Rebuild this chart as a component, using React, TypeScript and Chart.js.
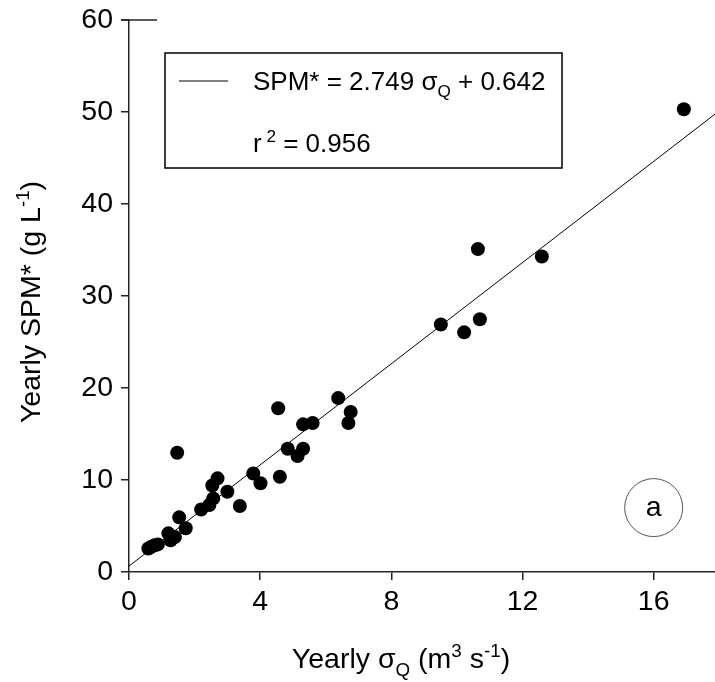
import React, { useEffect, useRef } from "react";
import { Chart, registerables } from "chart.js";

Chart.register(...registerables);

// ---- data ----
const sigmaQ = [
  0.59, 0.68, 0.78, 0.88, 1.2, 1.27, 1.4, 1.53, 1.73, 1.47,
  2.2, 2.45, 2.57, 2.54, 2.7, 3.0, 3.38, 3.79, 4.01, 4.6,
  4.84, 5.14, 5.31, 5.31, 5.6, 4.55, 6.38, 6.76, 6.69, 9.51,
  10.22, 10.7, 10.64, 12.59, 16.92,
];
const spm = [
  2.55, 2.75, 2.9, 3.0, 4.2, 3.45, 3.8, 5.94, 4.75, 12.97,
  6.8, 7.28, 8.0, 9.4, 10.18, 8.73, 7.17, 10.7, 9.64, 10.36,
  13.4, 12.6, 13.4, 16.05, 16.2, 17.8, 18.9, 17.4, 16.2, 26.9,
  26.05, 27.47, 35.1, 34.3, 50.3,
];
// regression line endpoints (SPM* = 2.749 sigmaQ + 0.642)
const fitX = [0, 17.87];
const fitY = [0.642, 49.77];

const xTicks = [0, 4, 8, 12, 16];
const yTicks = [0, 10, 20, 30, 40, 50, 60];
const X_MAX = 17.87;
const Y_MAX = 60;

const FONT = "'Liberation Sans', Arial, sans-serif";
const FS = 28.5;
const LEG_FS = 26;

type Seg = { t: string; k?: "sub" | "sup" };

function segFont(size: number, k?: string) {
  const s = k ? size * 0.66 : size;
  return `${s}px ${FONT}`;
}

function richWidth(ctx: CanvasRenderingContext2D, segs: Seg[], size: number) {
  let w = 0;
  for (const s of segs) {
    ctx.font = segFont(size, s.k);
    w += ctx.measureText(s.t).width;
  }
  return w;
}

function drawRich(
  ctx: CanvasRenderingContext2D,
  segs: Seg[],
  x: number,
  y: number,
  size: number,
  align: "left" | "center"
) {
  let cx = align === "center" ? x - richWidth(ctx, segs, size) / 2 : x;
  ctx.textAlign = "left";
  ctx.textBaseline = "alphabetic";
  ctx.fillStyle = "#000";
  for (const s of segs) {
    ctx.font = segFont(size, s.k);
    const dy = s.k === "sub" ? size * 0.28 : s.k === "sup" ? -size * 0.38 : 0;
    ctx.fillText(s.t, cx, y + dy);
    cx += ctx.measureText(s.t).width;
  }
}

const annotPlugin = {
  id: "annot",
  afterDraw(chart: any) {
    const ctx: CanvasRenderingContext2D = chart.ctx;
    const area = chart.chartArea;
    const xs = chart.scales.x;
    const ys = chart.scales.y;
    ctx.save();

    // small top segment at y max
    ctx.strokeStyle = "#222";
    ctx.lineWidth = 1.5;
    ctx.beginPath();
    const yTop = ys.getPixelForValue(Y_MAX);
    ctx.moveTo(area.left - 8, yTop);
    ctx.lineTo(area.left + 28, yTop);
    ctx.stroke();

    // legend box
    const bx = area.left + 36;
    const by = area.top + 33;
    const bw = 397;
    const bh = 115;
    ctx.strokeStyle = "#000";
    ctx.lineWidth = 1.5;
    ctx.strokeRect(bx, by, bw, bh);
    ctx.lineWidth = 1;
    ctx.beginPath();
    ctx.moveTo(bx + 14, by + 28);
    ctx.lineTo(bx + 63, by + 28);
    ctx.stroke();
    drawRich(
      ctx,
      [{ t: "SPM* = 2.749 σ" }, { t: "Q", k: "sub" }, { t: " + 0.642" }],
      bx + 88,
      by + 37,
      LEG_FS,
      "left"
    );
    drawRich(
      ctx,
      [{ t: "r" }, { t: " 2", k: "sup" }, { t: " = 0.956" }],
      bx + 88,
      by + 99,
      LEG_FS,
      "left"
    );

    // circled "a"
    const cx = xs.getPixelForValue(16);
    const cy = ys.getPixelForValue(7);
    ctx.strokeStyle = "#555";
    ctx.lineWidth = 1;
    ctx.beginPath();
    ctx.arc(cx, cy, 29, 0, Math.PI * 2);
    ctx.stroke();
    ctx.fillStyle = "#000";
    ctx.font = `${FS}px ${FONT}`;
    ctx.textAlign = "center";
    ctx.textBaseline = "middle";
    ctx.fillText("a", cx, cy + 1);

    // x title
    drawRich(
      ctx,
      [
        { t: "Yearly σ" },
        { t: "Q", k: "sub" },
        { t: " (m" },
        { t: "3", k: "sup" },
        { t: " s" },
        { t: "-1", k: "sup" },
        { t: ")" },
      ],
      area.left + 272,
      668,
      FS,
      "center"
    );

    // y title
    ctx.save();
    ctx.translate(40, (area.top + area.bottom) / 2 + 6);
    ctx.rotate(-Math.PI / 2);
    drawRich(
      ctx,
      [{ t: "Yearly SPM* (g L" }, { t: "-1", k: "sup" }, { t: ")" }],
      0,
      0,
      FS,
      "center"
    );
    ctx.restore();

    ctx.restore();
  },
};

export default function App() {
  const ref = useRef<HTMLCanvasElement | null>(null);

  useEffect(() => {
    document.body.style.margin = "0";
    const canvas = ref.current!;
    const axisCommon = {
      grid: {
        drawOnChartArea: false,
        drawTicks: true,
        tickLength: 8,
        color: "#222",
        lineWidth: 1.5,
      },
      border: { display: true, color: "#222", width: 1.5 },
    };
    const chart = new Chart(canvas, {
      type: "scatter",
      data: {
        datasets: [
          {
            type: "line",
            data: fitX.map((x, i) => ({ x, y: fitY[i] })),
            borderColor: "#000",
            borderWidth: 1,
            pointRadius: 0,
            fill: false,
            order: 2,
          } as any,
          {
            data: sigmaQ.map((x, i) => ({ x, y: spm[i] })),
            backgroundColor: "#000",
            borderColor: "#000",
            borderWidth: 0,
            pointRadius: 7,
            clip: false,
            order: 1,
          } as any,
        ],
      },
      options: {
        responsive: false,
        animation: false,
        layout: {
          autoPadding: false,
          padding: { top: 20, right: 0, left: 0, bottom: 0 },
        },
        plugins: {
          legend: { display: false },
          tooltip: { enabled: false },
        },
        scales: {
          x: {
            type: "linear",
            min: 0,
            max: X_MAX,
            afterBuildTicks: (s: any) => {
              s.ticks = xTicks.map((v) => ({ value: v }));
            },
            afterFit: (s: any) => {
              s.height = 110;
              s.paddingLeft = 0;
              s.paddingRight = 0;
            },
            ...axisCommon,
            ticks: {
              font: { family: FONT, size: FS },
              color: "#000",
              padding: 5,
              maxRotation: 0,
              autoSkip: false,
            },
          },
          y: {
            type: "linear",
            min: 0,
            max: Y_MAX,
            afterBuildTicks: (s: any) => {
              s.ticks = yTicks.map((v) => ({ value: v }));
            },
            afterFit: (s: any) => {
              s.width = 129;
              s.paddingTop = 0;
              s.paddingBottom = 0;
            },
            ...axisCommon,
            ticks: {
              font: { family: FONT, size: FS },
              color: "#000",
              padding: 8,
              autoSkip: false,
            },
          },
        },
      } as any,
      plugins: [annotPlugin],
    });
    return () => chart.destroy();
  }, []);

  return (
    <div style={{ position: "fixed", left: 0, top: 0, width: 715, height: 682, background: "#fff" }}>
      <canvas ref={ref} width={715} height={682} style={{ display: "block" }} />
    </div>
  );
}
